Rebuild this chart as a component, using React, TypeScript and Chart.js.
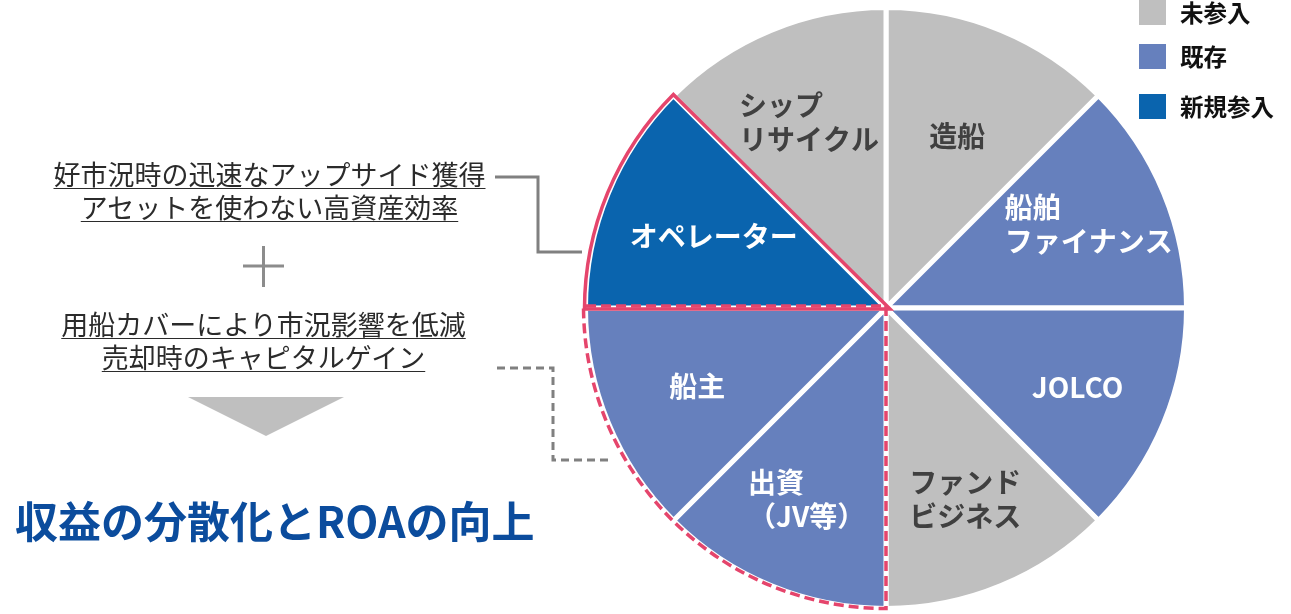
import React, { useEffect, useRef } from "react";
import { Chart, registerables } from "chart.js";

Chart.register(...registerables);

const categories = ["造船", "船舶\nファイナンス", "JOLCO", "ファンド\nビジネス", "出資\n（JV等）", "船主", "オペレーター", "シップ\nリサイクル"];
const values = [1, 1, 1, 1, 1, 1, 1, 1];
const status = ["未参入", "既存", "既存", "未参入", "既存", "既存", "新規参入", "未参入"];
const legendLabels = ["未参入", "既存", "新規参入"];
const noteLines1 = ["好市況時の迅速なアップサイド獲得", "アセットを使わない高資産効率"];
const noteLines2 = ["用船カバーにより市況影響を低減", "売却時のキャピタルゲイン"];
const conclusion = "収益の分散化とROAの向上";

// styling (not data)
const statusColors: Record<string, string> = { "未参入": "#bfbfbf", "既存": "#6680bd", "新規参入": "#0a64ae" };
const statusTextColors: Record<string, string> = { "未参入": "#404040", "既存": "#ffffff", "新規参入": "#ffffff" };
const labelRadiusFactor = [0.62, 0.73, 0.69, 0.69, 0.69, 0.68, 0.62, 0.67];
const FONT = '"Noto Sans CJK JP", "Noto Sans", sans-serif';

const overlayPlugin = {
  id: "overlay",
  afterDatasetsDraw(chart: any) {
    const ctx = chart.ctx;
    const meta = chart.getDatasetMeta(0);
    const arcs = meta.data;
    // labels
    ctx.save();
    ctx.font = `bold 28px ${FONT}`;
    ctx.textBaseline = "middle";
    ctx.textAlign = "left";
    arcs.forEach((arc: any, i: number) => {
      const { x, y, startAngle, endAngle, outerRadius } = arc.getProps(["x", "y", "startAngle", "endAngle", "outerRadius"], true);
      const mid = (startAngle + endAngle) / 2;
      const r = outerRadius * labelRadiusFactor[i];
      const cx = x + Math.cos(mid) * r;
      const cy = y + Math.sin(mid) * r;
      const lines = categories[i].split("\n");
      const lh = 34;
      const w = Math.max(...lines.map((l) => ctx.measureText(l).width));
      ctx.fillStyle = statusTextColors[status[i]];
      lines.forEach((l, j) => {
        ctx.fillText(l, cx - w / 2, cy + (j - (lines.length - 1) / 2) * lh);
      });
    });
    ctx.restore();

    // red outlines
    const op = arcs[6].getProps(["x", "y", "startAngle", "endAngle", "outerRadius"], true);
    ctx.save();
    ctx.strokeStyle = "#e5456c";
    ctx.lineWidth = 3.5;
    ctx.lineJoin = "miter";
    const R1 = op.outerRadius + 3;
    const cx1 = op.x + 2;
    const cy1 = op.y + 1;
    ctx.beginPath();
    ctx.moveTo(cx1 + 2, cy1);
    ctx.lineTo(cx1 + Math.cos(op.startAngle) * R1, cy1 + Math.sin(op.startAngle) * R1);
    ctx.arc(cx1, cy1, R1, op.startAngle, op.endAngle);
    ctx.closePath();
    ctx.stroke();

    const a = arcs[4].getProps(["x", "y", "startAngle", "endAngle", "outerRadius"], true);
    const b = arcs[5].getProps(["startAngle", "endAngle"], true);
    const R2 = a.outerRadius + 2;
    const cy2 = a.y - 2;
    ctx.setLineDash([10, 5]);
    ctx.beginPath();
    ctx.moveTo(a.x, cy2);
    ctx.lineTo(a.x + Math.cos(a.startAngle) * R2, cy2 + Math.sin(a.startAngle) * R2);
    ctx.arc(a.x, cy2, R2, a.startAngle, b.endAngle);
    ctx.closePath();
    ctx.stroke();
    ctx.restore();

    // connectors
    ctx.save();
    ctx.strokeStyle = "#808080";
    ctx.lineWidth = 3;
    ctx.beginPath();
    ctx.moveTo(495, 177);
    ctx.lineTo(538, 177);
    ctx.lineTo(538, 252);
    ctx.lineTo(582, 252);
    ctx.stroke();
    ctx.setLineDash([8, 5]);
    ctx.beginPath();
    ctx.moveTo(497, 368);
    ctx.lineTo(553, 368);
    ctx.lineTo(553, 460);
    ctx.lineTo(611, 460);
    ctx.stroke();
    ctx.restore();

    // arrow triangle
    ctx.save();
    ctx.fillStyle = "#bfbfbf";
    ctx.beginPath();
    ctx.moveTo(188, 397);
    ctx.lineTo(344, 397);
    ctx.lineTo(266, 436);
    ctx.closePath();
    ctx.fill();
    // plus
    ctx.strokeStyle = "#8c8c8c";
    ctx.lineWidth = 3;
    ctx.beginPath();
    ctx.moveTo(243, 266);
    ctx.lineTo(284, 266);
    ctx.moveTo(263.5, 246);
    ctx.lineTo(263.5, 287);
    ctx.stroke();
    ctx.restore();
  },
};

export default function App() {
  const ref = useRef<HTMLCanvasElement>(null);
  useEffect(() => {
    if (!ref.current) return;
    const chart = new Chart(ref.current, {
      type: "pie",
      data: {
        labels: categories,
        datasets: [
          {
            data: values,
            backgroundColor: status.map((s) => statusColors[s]),
            borderColor: "#ffffff",
            borderWidth: 5,
          },
        ],
      },
      options: {
        responsive: false,
        animation: false,
        layout: { padding: { left: 583, right: 102, top: 5, bottom: 3 } },
        plugins: { legend: { display: false }, tooltip: { enabled: false } },
      },
      plugins: [overlayPlugin],
    });
    return () => chart.destroy();
  }, []);

  const noteStyle: React.CSSProperties = {
    position: "absolute",
    textAlign: "center",
    fontFamily: FONT,
    fontSize: 27,
    lineHeight: "33px",
    color: "#2b2b2b",
    textDecoration: "underline",
    textDecorationThickness: "1px",
    textUnderlineOffset: "3px",
    whiteSpace: "nowrap",
  };

  return (
    <div style={{ position: "absolute", left: 0, top: 0, width: 1291, height: 614, background: "#fff", overflow: "hidden" }}>
      <canvas ref={ref} width={1291} height={614} style={{ position: "absolute", left: 0, top: 0, width: 1291, height: 614 }} />
      <div style={{ ...noteStyle, left: 0, width: 539, top: 157 }}>
        {noteLines1.map((l) => (
          <div key={l}>{l}</div>
        ))}
      </div>
      <div style={{ ...noteStyle, left: 0, width: 527, top: 307 }}>
        {noteLines2.map((l) => (
          <div key={l}>{l}</div>
        ))}
      </div>
      <div
        style={{
          position: "absolute",
          left: 15,
          top: 490,
          fontFamily: FONT,
          fontWeight: "bold",
          fontSize: 43,
          lineHeight: "58px",
          color: "#0b4c9d",
          whiteSpace: "nowrap",
        }}
      >
        {conclusion}
      </div>
      <div style={{ position: "absolute", left: 1139, top: 0, fontFamily: FONT }}>
        {legendLabels.map((l, i) => (
          <div key={l} style={{ position: "absolute", left: 0, top: [0, 44, 94][i], display: "flex", alignItems: "center", height: 25 }}>
            <div style={{ width: 27, height: 25, background: statusColors[l] }} />
            <div style={{ marginLeft: 14, fontSize: 23.5, fontWeight: "bold", color: "#111", whiteSpace: "nowrap", lineHeight: "25px" }}>{l}</div>
          </div>
        ))}
      </div>
    </div>
  );
}
